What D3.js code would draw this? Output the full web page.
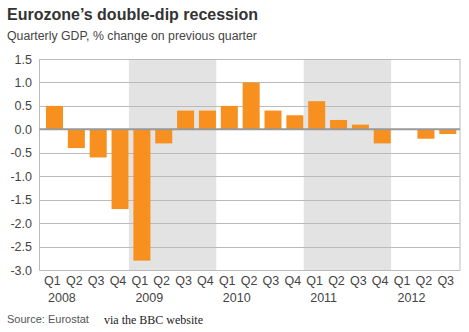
<!DOCTYPE html>
<html>
<head>
<meta charset="utf-8">
<script src="https://cdn.jsdelivr.net/npm/d3@7"></script>
<style>
  body { margin: 0; background: #fff; }
  text { font-family: "Liberation Sans", Arial, Helvetica, sans-serif; }
</style>
</head>
<body>
<svg id="chart"></svg>
<script>
// 数据
const years = ["2008", "2009", "2010", "2011", "2012"];
const quarters = ["Q1", "Q2", "Q3", "Q4"];
const gdp = [0.5, -0.4, -0.6, -1.7, -2.8, -0.3, 0.4, 0.4, 0.5, 1.0, 0.4, 0.3, 0.6, 0.2, 0.1, -0.3, 0, -0.2, -0.1];
const shadedYears = ["2009", "2011"];
const yTicks = [1.5, 1.0, 0.5, 0.0, -0.5, -1.0, -1.5, -2.0, -2.5, -3.0];

const width = 469, height = 332;
const svg = d3.select("#chart").attr("width", width).attr("height", height);

const data = gdp.map((v, i) => ({
    value: v,
    q: quarters[i % 4],
    year: years[Math.floor(i / 4)],
    i: i
}));

const plotLeft = 39.5, plotRight = 460, plotTop = 59, plotBottom = 270;

// 比例尺
const x = d3.scaleBand()
    .domain(d3.range(data.length))
    .range([41.5, 41.5 + 21.85 * data.length])
    .padding(0);
const y = d3.scaleLinear().domain([-3, 1.5]).range([plotBottom, plotTop]);

// 阴影年份
shadedYears.forEach(yr => {
    const idx = data.filter(d => d.year === yr).map(d => d.i);
    const x0 = x(d3.min(idx)), x1 = x(d3.max(idx)) + x.bandwidth();
    svg.append("rect")
        .attr("x", x0).attr("y", plotTop)
        .attr("width", x1 - x0).attr("height", plotBottom - plotTop)
        .attr("fill", "#e3e3e3");
});

// 网格线
svg.selectAll(".grid").data(yTicks).enter().append("line")
    .attr("x1", plotLeft).attr("x2", plotRight)
    .attr("y1", d => Math.round(y(d)) + 0.5).attr("y2", d => Math.round(y(d)) + 0.5)
    .attr("stroke", "#bbb").attr("stroke-width", 1);

// 左右边框
[plotLeft, plotRight].forEach(px => {
    svg.append("line")
        .attr("x1", px).attr("x2", px)
        .attr("y1", plotTop).attr("y2", plotBottom + 0.5)
        .attr("stroke", "#bbb");
});

// y 轴标签
svg.selectAll(".ylab").data(yTicks).enter().append("text")
    .attr("x", 32).attr("y", d => y(d) + 4.5)
    .attr("text-anchor", "end")
    .attr("font-size", 12.5).attr("fill", "#444")
    .text(d => d.toFixed(1));

// 柱子
svg.selectAll(".bar").data(data.filter(d => d.value !== 0)).enter().append("rect")
    .attr("x", d => x(d.i) + 4.5)
    .attr("width", 17)
    .attr("y", d => Math.min(y(d.value), y(0)))
    .attr("height", d => Math.abs(y(d.value) - y(0)))
    .attr("fill", "#f7901e");

// 零线
svg.append("line")
    .attr("x1", plotLeft).attr("x2", plotRight)
    .attr("y1", y(0)).attr("y2", y(0))
    .attr("stroke", "#999").attr("stroke-width", 2);

// x 轴标签
svg.selectAll(".qlab").data(data).enter().append("text")
    .attr("x", d => x(d.i) + x.bandwidth() / 2)
    .attr("y", 285)
    .attr("text-anchor", "middle")
    .attr("font-size", 12.5).attr("fill", "#444")
    .text(d => d.q);

svg.selectAll(".ylab2").data(years).enter().append("text")
    .attr("x", yr => x(years.indexOf(yr) * 4) + 6.5)
    .attr("y", 302)
    .attr("font-size", 12.5).attr("fill", "#444")
    .text(yr => yr);

// 标题
svg.append("text")
    .attr("x", 7).attr("y", 20)
    .attr("font-size", 16).attr("font-weight", "bold").attr("fill", "#333")
    .text("Eurozone\u2019s double-dip recession");
svg.append("text")
    .attr("x", 7).attr("y", 40)
    .attr("font-size", 12.3).attr("fill", "#444")
    .text("Quarterly GDP, % change on previous quarter");

// 来源
svg.append("text")
    .attr("x", 7).attr("y", 323)
    .attr("font-size", 11).attr("fill", "#555")
    .text("Source: Eurostat");
svg.append("text")
    .attr("x", 104).attr("y", 324)
    .style("font-family", "'Liberation Serif', 'Times New Roman', serif")
    .attr("font-size", 12).attr("fill", "#222")
    .text("via the BBC website");
</script>
</body>
</html>
